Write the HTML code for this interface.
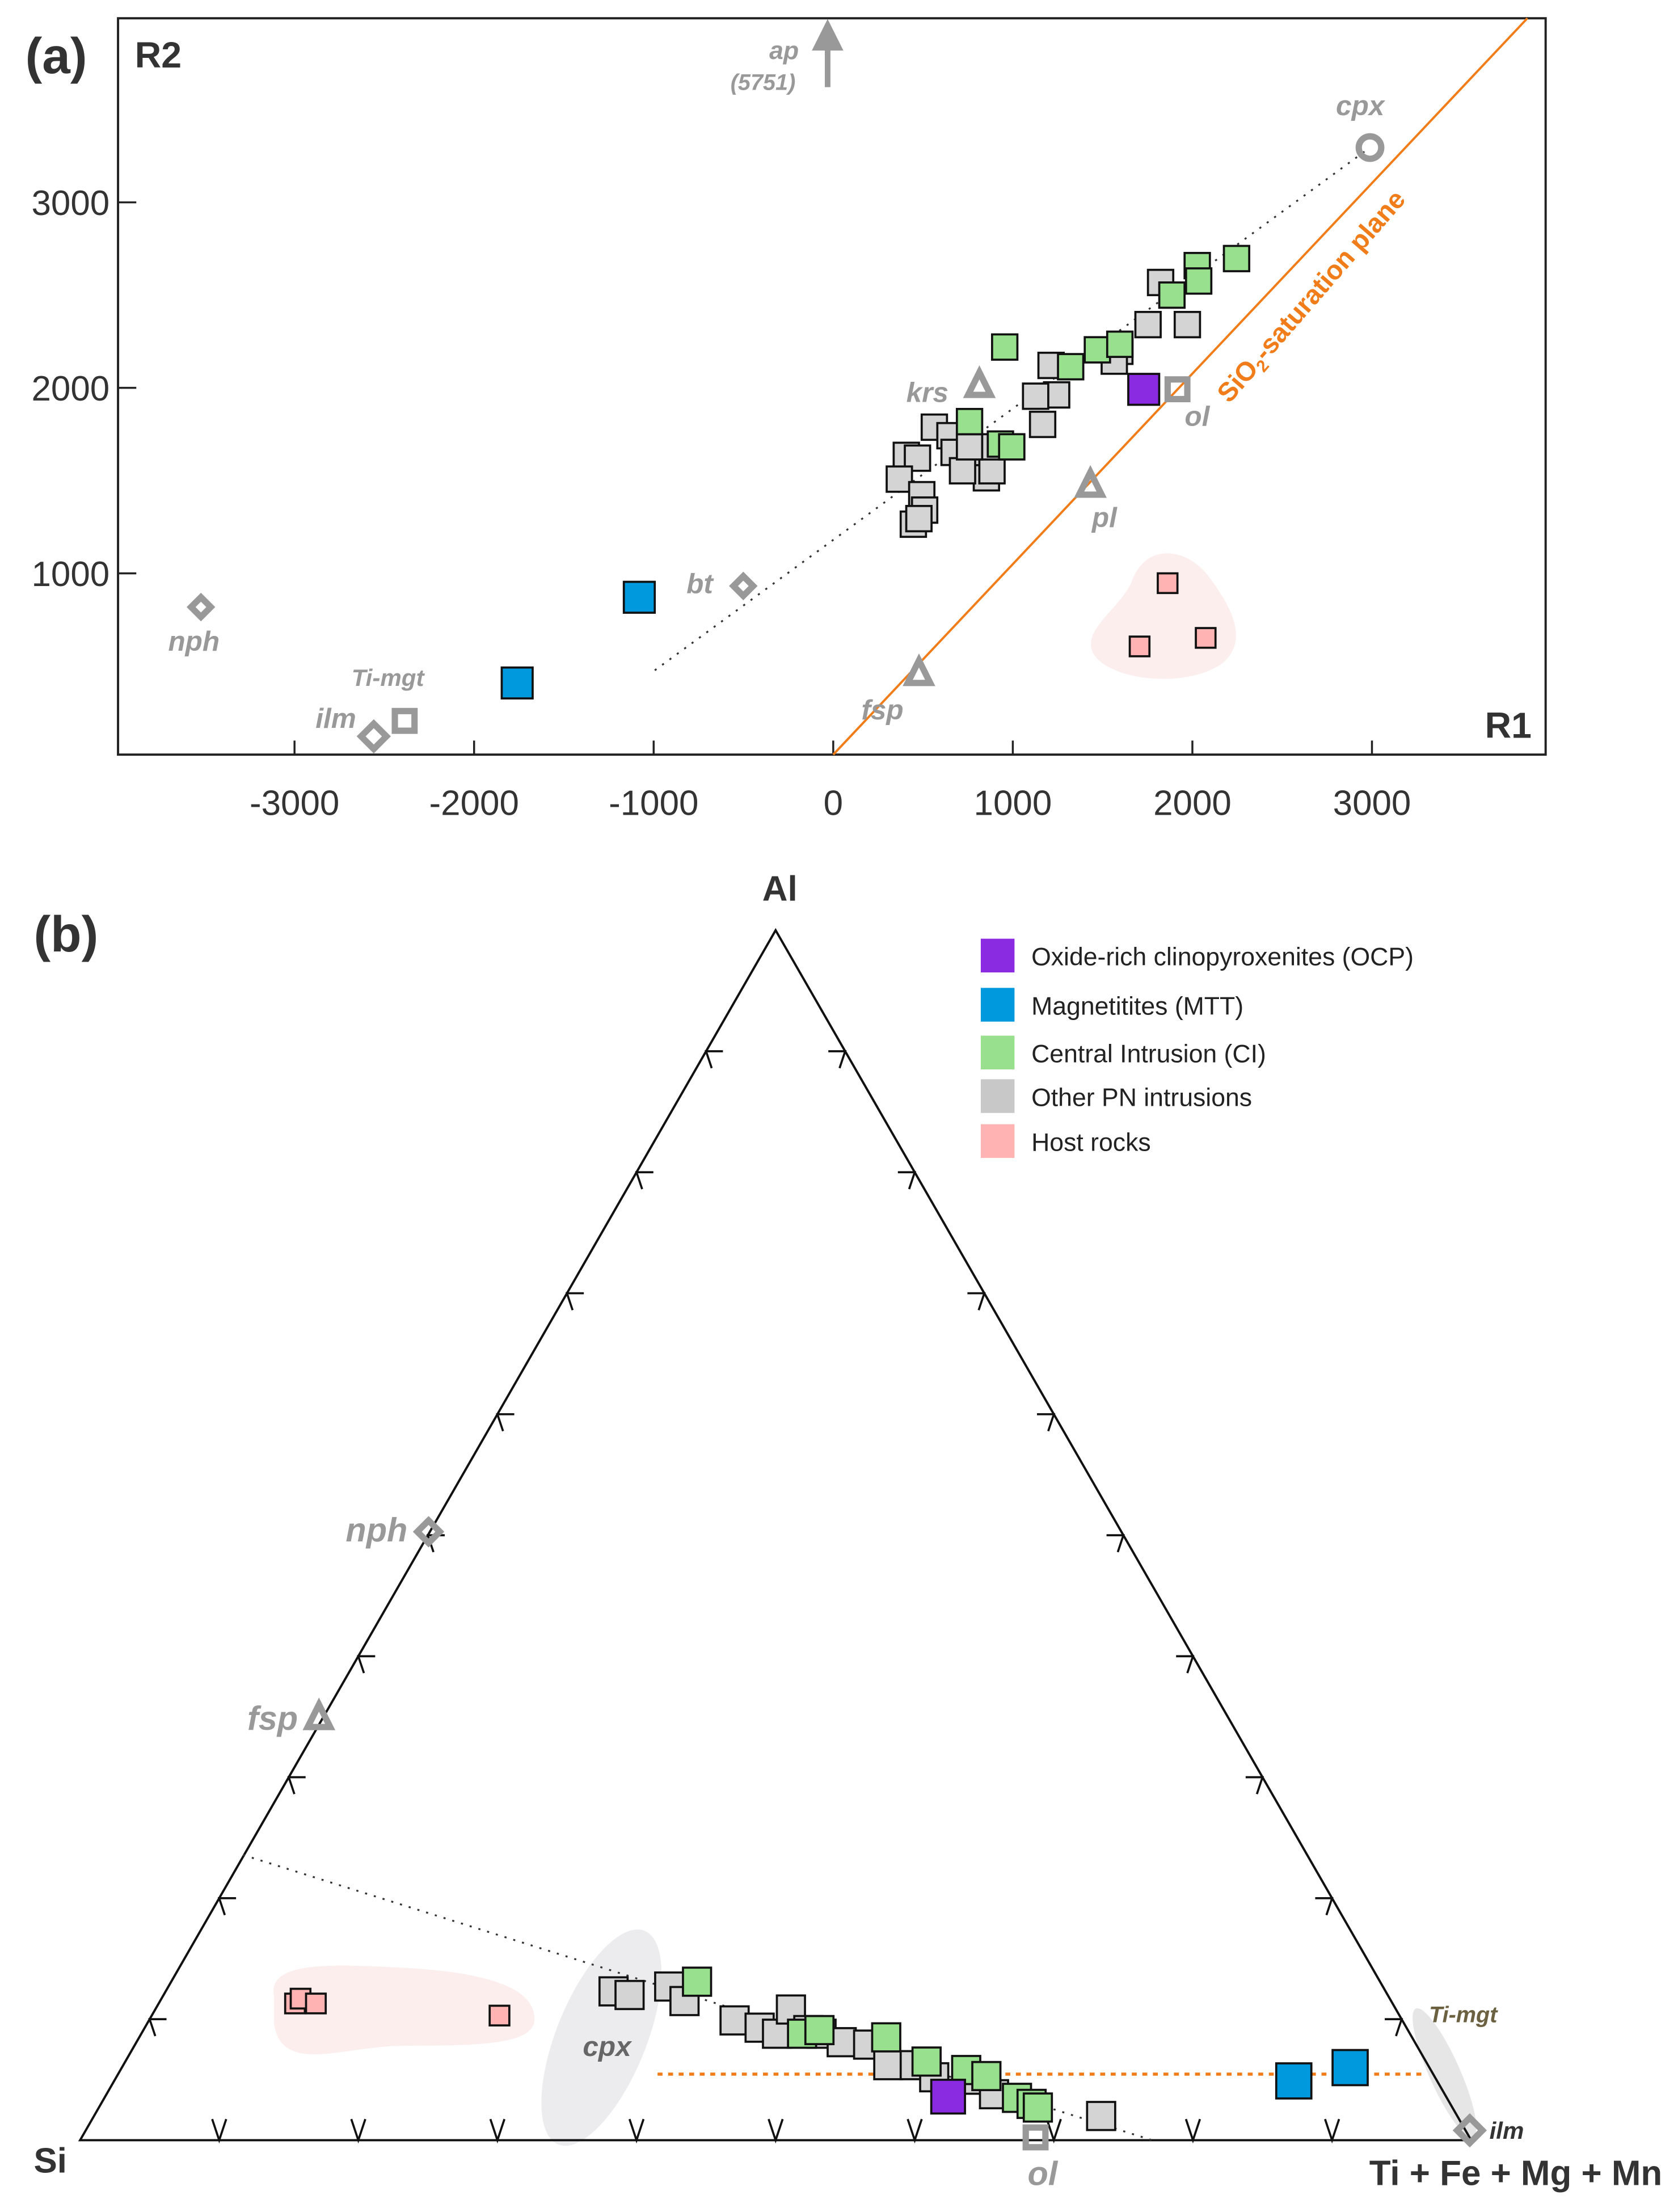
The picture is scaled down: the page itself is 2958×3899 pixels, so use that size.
<!DOCTYPE html>
<html><head><meta charset="utf-8"><style>
html,body{margin:0;padding:0;background:#fff}
svg{display:block}
text{font-family:"Liberation Sans",Arial,sans-serif}
</style></head><body>
<svg id="fig" width="2958" height="3899" viewBox="0 0 1194.2 1574.1" xmlns="http://www.w3.org/2000/svg">
<g id="pa">
  <text x="18" y="52" font-size="36" font-weight="bold" fill="#333">(a)</text>
  <path d="M805,415 C815,385 845,390 860,410 C875,430 890,455 870,472 C845,490 790,485 778,465 C770,448 795,435 805,415 Z" fill="#fdeeee"/>
  <rect x="84" y="13" width="1016" height="524" fill="none" stroke="#222" stroke-width="1.6"/>
  <text x="96" y="48" font-size="26" font-weight="bold" fill="#333">R2</text>
  <text x="1090" y="525" font-size="26" font-weight="bold" fill="#333" text-anchor="end">R1</text>
  <g id="axA"></g>
  <line x1="466" y1="477" x2="975" y2="105" stroke="#333" stroke-width="1.3" stroke-dasharray="1.5 5"/>
  <line x1="593" y1="537" x2="1087" y2="13" stroke="#f07d1a" stroke-width="1.6"/>
  <text x="938" y="215" font-size="19" font-weight="bold" fill="#f07d1a" text-anchor="middle" transform="rotate(-49 938 215)">SiO<tspan font-size="12" dy="4">2</tspan><tspan dy="-4">-saturation plane</tspan></text>
  <g id="refA" fill="none" stroke="#999" stroke-width="4.5"></g>
  <g id="ptsA"></g>
</g>
<g id="pb">
  <text x="24" y="677" font-size="36" font-weight="bold" fill="#333">(b)</text>
  <path d="M195,1420 C190,1395 240,1398 280,1400 C330,1402 385,1410 380,1440 C375,1458 320,1455 280,1456 C240,1458 200,1475 195,1440 Z" fill="#fdeeee"/>
  <ellipse cx="428" cy="1450" rx="32" ry="82" fill="#ececee" transform="rotate(22 428 1450)"/>
  <ellipse cx="1028" cy="1475" rx="11" ry="50" fill="#e6e6e6" transform="rotate(-24 1028 1475)"/>
  <path d="M57,1523 L552,662 L1047,1523 Z" fill="none" stroke="#111" stroke-width="1.6"/>
  <g id="ticksB" stroke="#111" stroke-width="1.5" fill="none"></g>
  <text x="555" y="641" font-size="25" font-weight="bold" fill="#333" text-anchor="middle">Al</text>
  <text x="24" y="1546" font-size="25" font-weight="bold" fill="#333">Si</text>
  <text x="1183" y="1555" font-size="25" font-weight="bold" fill="#333" text-anchor="end">Ti + Fe + Mg + Mn</text>
  <line x1="173" y1="1320" x2="820" y2="1523" stroke="#333" stroke-width="1.3" stroke-dasharray="1.5 5"/>
  <line x1="468" y1="1476" x2="1012" y2="1476" stroke="#f07d1a" stroke-width="2.2" stroke-dasharray="3.5 4"/>
  <text x="432" y="1463" font-size="20" font-weight="bold" font-style="italic" fill="#666" text-anchor="middle">cpx</text>
  <text x="1017" y="1439" font-size="16" font-weight="bold" font-style="italic" fill="#6b6040">Ti-mgt</text>
  <g id="refB" fill="none" stroke="#999" stroke-width="4.5"></g>
  <g id="ptsB"></g>
  <g id="legend"></g>
</g>
</svg>
<script>
// ---- Panel (a) data: R1 / R2 values ----
const xTicks = [-3000,-2000,-1000,0,1000,2000,3000];
const yTicks = [1000,2000,3000];
const ocpR1 = [1729], ocpR2 = [1992];
const mttR1 = [-1080,-1760], mttR2 = [871,409];
const hostR1 = [1862,1706,2074], hostR2 = [947,606,652];
const ciR1 = [2246,2027,2035,1886,955,1322,1471,1596,759,931,994];
const ciR2 = [2697,2659,2576,2500,2220,2114,2205,2235,1818,1697,1682];
const pnR1 = [1823,1753,1972,1596,1565,1213,1244,1127,1166,563,650,837,673,407,469,829,853,720,884,368,493,509,446,477,884,759];
const pnR2 = [2568,2341,2341,2197,2144,2121,1962,1955,1803,1788,1742,1667,1652,1636,1621,1591,1515,1553,1553,1508,1424,1341,1265,1295,1682,1682];
// ---- Panel (b) data: Al fraction and (Ti+Fe+Mg+Mn) fraction ----
const hostAl = [0.113,0.117,0.113,0.103], hostT = [0.098,0.100,0.113,0.250];
const pnAl = [0.123,0.120,0.127,0.115,0.099,0.093,0.088,0.108,0.091,0.088,0.081,0.079,0.062,0.062,0.052,0.050,0.038,0.020];
const pnT  = [0.322,0.335,0.360,0.377,0.421,0.442,0.457,0.457,0.478,0.489,0.507,0.527,0.550,0.569,0.588,0.614,0.638,0.724];
const ciAl = [0.131,0.088,0.091,0.085,0.065,0.058,0.053,0.035,0.030,0.027];
const ciT  = [0.378,0.475,0.486,0.537,0.576,0.608,0.625,0.656,0.669,0.675];
const ocpAl = [0.036], ocpT = [0.606];
const mttAl = [0.049,0.060], mttT = [0.848,0.883];
const legendLabels = ["Oxide-rich clinopyroxenites (OCP)","Magnetitites (MTT)","Central Intrusion (CI)","Other PN intrusions","Host rocks"];
const legendColors = ["#8a2be2","#0099dd","#98e08e","#c8c8c8","#ffb3b3"];

const NS="http://www.w3.org/2000/svg";
function mk(tag,attrs,parent){const e=document.createElementNS(NS,tag);for(const k in attrs)e.setAttribute(k,attrs[k]);parent.appendChild(e);return e;}
const xA=v=>593+v*0.1278, yA=v=>540-v*0.132;
const tx=(al,t)=>57+990*(t+al/2), ty=(al)=>1523-861*al;

const axA=document.getElementById('axA');
xTicks.forEach(v=>{
  const l=mk('line',{x1:xA(v),x2:xA(v),y1:537,y2:527,stroke:'#222','stroke-width':1.4},axA);
  
  
  const t=mk('text',{x:xA(v),y:580,'font-size':25,fill:'#333','text-anchor':'middle'},axA);
  t.textContent=v;
  
  
});
yTicks.forEach(v=>{
  const l=mk('line',{x1:84,x2:97,y1:yA(v),y2:yA(v),stroke:'#222','stroke-width':1.4},axA);
  
  
  const t=mk('text',{x:78,y:yA(v)+9,'font-size':25,fill:'#333','text-anchor':'end'},axA);
  t.textContent=v;
  
  
});

function sq(g,cx,cy,s,fill,name){
  const r=mk('rect',{x:cx-s/2,y:cy-s/2,width:s,height:s,fill:fill,stroke:'#111','stroke-width':1.5},g);
  
  
}
const pA=document.getElementById('ptsA');
pnR1.forEach((v,i)=>sq(pA,xA(v),yA(pnR2[i]),18,'#d4d4d4','pn-point-a'));
ciR1.forEach((v,i)=>sq(pA,xA(v),yA(ciR2[i]),18,'#98e08e','ci-point-a'));
hostR1.forEach((v,i)=>sq(pA,xA(v),yA(hostR2[i]),14,'#ffb3b3','host-point-a'));
mttR1.forEach((v,i)=>sq(pA,xA(v),yA(mttR2[i]),22,'#0099dd','mtt-point-a'));
ocpR1.forEach((v,i)=>sq(pA,xA(v),yA(ocpR2[i]),22,'#8a2be2','ocp-point-a'));

function tri(g,x,y){const p=mk('path',{d:`M${x},${y-9} L${x+8},${y+7} L${x-8},${y+7} Z`},g);}
function dia(g,x,y,s){const p=mk('path',{d:`M${x},${y-s} L${x+s},${y} L${x},${y+s} L${x-s},${y} Z`},g);}
function bx(g,x,y){const p=mk('rect',{x:x-7,y:y-7,width:14,height:14},g);}
function lab(g,x,y,s,txt,size,anchor,col){const t=mk('text',{x:x,y:y,'font-size':size||20,'font-weight':'bold','font-style':'italic',fill:col||'#999',stroke:'none','text-anchor':anchor||'middle'},g);t.textContent=txt;}
const rA=document.getElementById('refA');
const c=mk('circle',{cx:975,cy:105,r:8},rA);
bx(rA,838,277);tri(rA,697,274);tri(rA,776,345);tri(rA,654,479);
dia(rA,529,417,7);dia(rA,143,432,7);bx(rA,288,513);dia(rA,266,524,9);
lab(rA,968,82,'cpx-label','cpx');lab(rA,852,303,'ol-label','ol');lab(rA,660,286,'krs-label','krs');
lab(rA,786,375,'pl-label','pl');lab(rA,628,512,'fsp-label','fsp');lab(rA,498,422,'bt-label','bt');
lab(rA,138,463,'nph-label','nph');lab(rA,276,488,'ti-mgt-label','Ti-mgt',17);lab(rA,239,518,'ilm-label','ilm');
lab(rA,558,42,'ap-label','ap',18);lab(rA,543,64,'ap-value-label','(5751)',16);
const ar=mk('path',{d:'M589,62 L589,30 M581,34 L589,18 L597,34 Z',fill:'#999','stroke-width':4},rA);

const tb=document.getElementById('ticksB');
for(let i=1;i<10;i++){
  const f=i/10;
  const bxp=57+990*f;
  let p=mk('path',{d:`M${bxp-5},${1508} L${bxp},${1523} L${bxp+5},${1508}`},tb);
  const lx=57+495*f, ly=1523-861*f;
  p=mk('path',{d:`M${lx+12},${ly} L${lx},${ly} L${lx+4},${ly+12}`},tb);
  const rx=1047-495*f, ry=1523-861*f;
  p=mk('path',{d:`M${rx-12},${ry} L${rx},${ry} L${rx-4},${ry+12}`},tb);
}
const pB=document.getElementById('ptsB');
hostAl.forEach((a,i)=>sq(pB,tx(a,hostT[i]),ty(a),14,'#ffb3b3','host-point-b'));
pnAl.forEach((a,i)=>sq(pB,tx(a,pnT[i]),ty(a),20,'#d4d4d4','pn-point-b'));
ciAl.forEach((a,i)=>sq(pB,tx(a,ciT[i]),ty(a),20,'#98e08e','ci-point-b'));
ocpAl.forEach((a,i)=>sq(pB,tx(a,ocpT[i]),ty(a),24,'#8a2be2','ocp-point-b'));
mttAl.forEach((a,i)=>sq(pB,tx(a,mttT[i]),ty(a),25,'#0099dd','mtt-point-b'));
const rB=document.getElementById('refB');
dia(rB,305,1090,8);tri(rB,227,1222);bx(rB,737,1521);dia(rB,1046,1516,9);
lab(rB,290,1097,'nph-label-b','nph',24,'end');lab(rB,212,1231,'fsp-label-b','fsp',24,'end');
lab(rB,742,1555,'ol-label-b','ol',24);
lab(rB,1060,1522,'ilm-label-b','ilm',17,'start','#333');
const lg=document.getElementById('legend');
const lgY=[680,715,749,780,812];
legendLabels.forEach((t,i)=>{
  const r=mk('rect',{x:698,y:lgY[i]-12,width:24,height:24,fill:legendColors[i]},lg);
  
  
  const tt=mk('text',{x:734,y:lgY[i]+7,'font-size':18,fill:'#222'},lg);
  tt.textContent=t;
  
  
});
</script>
</body></html>
